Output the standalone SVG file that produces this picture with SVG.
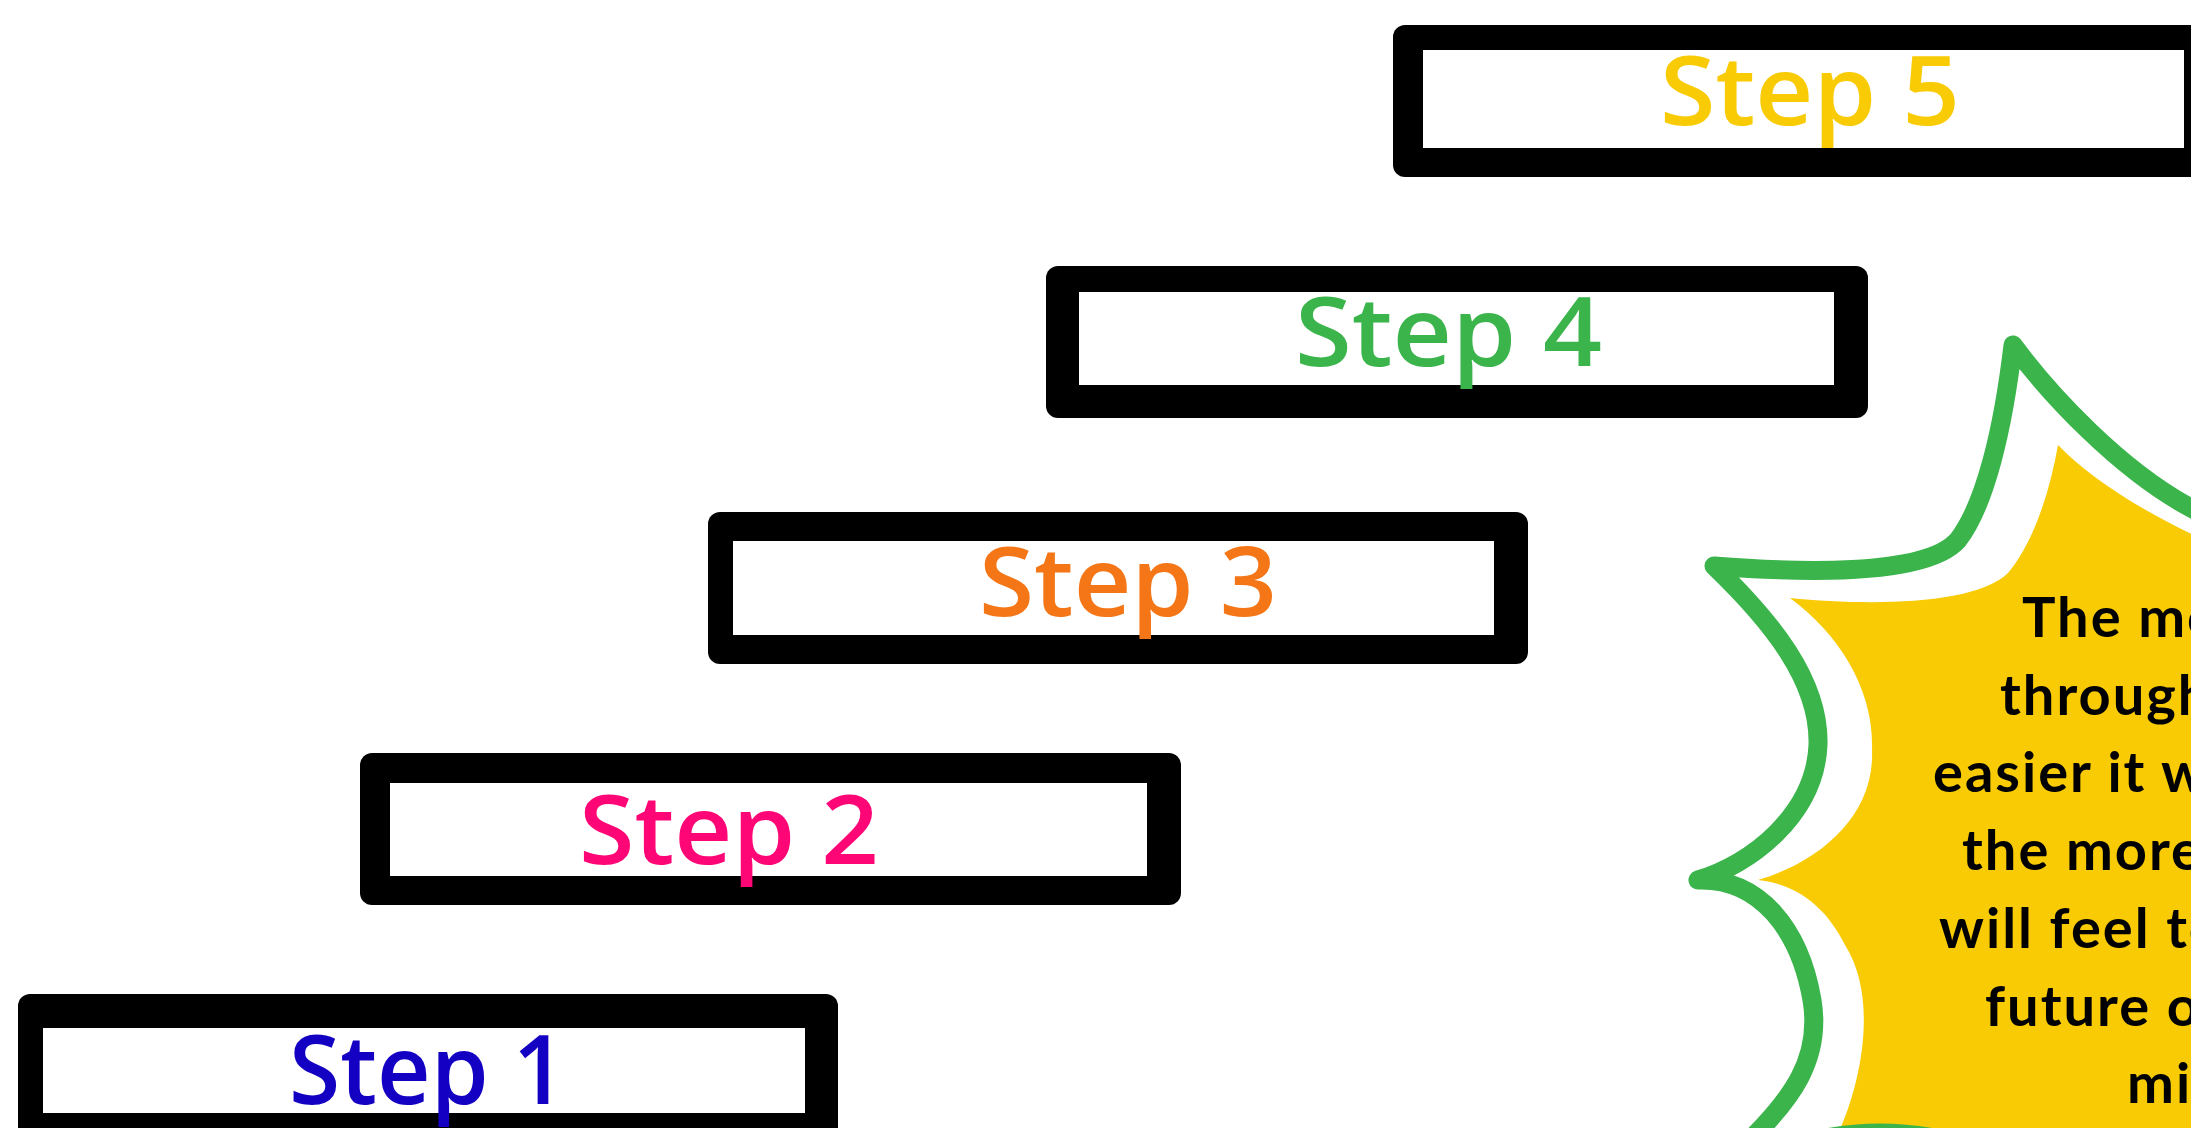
<svg xmlns="http://www.w3.org/2000/svg" width="2191" height="1128" viewBox="0 0 2191 1128">
  <style>
    .frame { fill: #000000; }
    .inner { fill: #ffffff; }
    .label { font-family: "Open Sans", "Liberation Sans", sans-serif; font-size: 96px; font-weight: 600; }
    .note { font-family: Lato, "Liberation Sans", sans-serif; font-size: 56px; font-weight: 700; letter-spacing: 2px; fill: #000000; }
    .burst-line { fill: none; stroke: #3AB44B; stroke-width: 19; stroke-linejoin: round; stroke-linecap: round; }
  </style>
  <rect width="2191" height="1128" fill="#ffffff"/>

  <!-- staircase of step boxes -->
  <g id="step-5">
    <rect class="frame" x="1393" y="25" width="840" height="152" rx="12"/>
    <rect class="inner" x="1423" y="50" width="761" height="98"/>
    <text class="label" x="1660" y="125" fill="#F8CB05" textLength="300" lengthAdjust="spacingAndGlyphs">Step 5</text>
  </g>
  <g id="step-4">
    <rect class="frame" x="1046" y="266" width="822" height="152" rx="12"/>
    <rect class="inner" x="1079" y="292" width="755" height="93"/>
    <text class="label" x="1295" y="366" fill="#3AB44B" textLength="307" lengthAdjust="spacingAndGlyphs">Step 4</text>
  </g>
  <g id="step-3">
    <rect class="frame" x="708" y="512" width="820" height="152" rx="12"/>
    <rect class="inner" x="733" y="541" width="761" height="94"/>
    <text class="label" x="979" y="616" fill="#F47617" textLength="298" lengthAdjust="spacingAndGlyphs">Step 3</text>
  </g>
  <g id="step-2">
    <rect class="frame" x="360" y="753" width="821" height="152" rx="12"/>
    <rect class="inner" x="390" y="783" width="757" height="93"/>
    <text class="label" x="579" y="864" fill="#FF0676" textLength="300" lengthAdjust="spacingAndGlyphs">Step 2</text>
  </g>
  <g id="step-1">
    <rect class="frame" x="18" y="994" width="820" height="152" rx="12"/>
    <rect class="inner" x="43" y="1028" width="762" height="85"/>
    <text class="label" x="289" y="1104" fill="#1400C3" textLength="277" lengthAdjust="spacingAndGlyphs">Step 1</text>
  </g>

  <!-- starburst callout -->
  <g id="starburst">
    <path fill="#F8CB05" d="M 2058 445 C 2090 478, 2140 510, 2200 538 L 2200 1140 L 1835 1140 C 1860 1090, 1880 1000, 1845 945 C 1825 905, 1795 884, 1758 880 C 1820 862, 1875 815, 1872 750 C 1874 690, 1840 635, 1790 598 C 1870 606, 1975 605, 2008 573 C 2035 540, 2050 490, 2058 445 Z"/>
    <path class="burst-line" d="M 2209 518 L 2191 508 C 2120 470, 2050 395, 2013 345 C 2003 430, 1985 505, 1958 540 C 1925 578, 1790 572, 1714 566 C 1770 620, 1820 680, 1818 745 C 1815 815, 1750 865, 1698 880 C 1760 878, 1800 930, 1812 1000 C 1822 1060, 1790 1100, 1750 1140"/>
    <path class="burst-line" d="M 1800 1144 Q 1880 1122 1960 1144"/>
    <text class="note" x="2022" y="637">The mo</text>
    <text class="note" x="2000" y="715">through</text>
    <text class="note" x="1933" y="792">easier it w</text>
    <text class="note" x="1962" y="870">the more</text>
    <text class="note" x="1939" y="948">will feel to</text>
    <text class="note" x="1985" y="1026">future o</text>
    <text class="note" x="2127" y="1103">mi</text>
  </g>
</svg>
